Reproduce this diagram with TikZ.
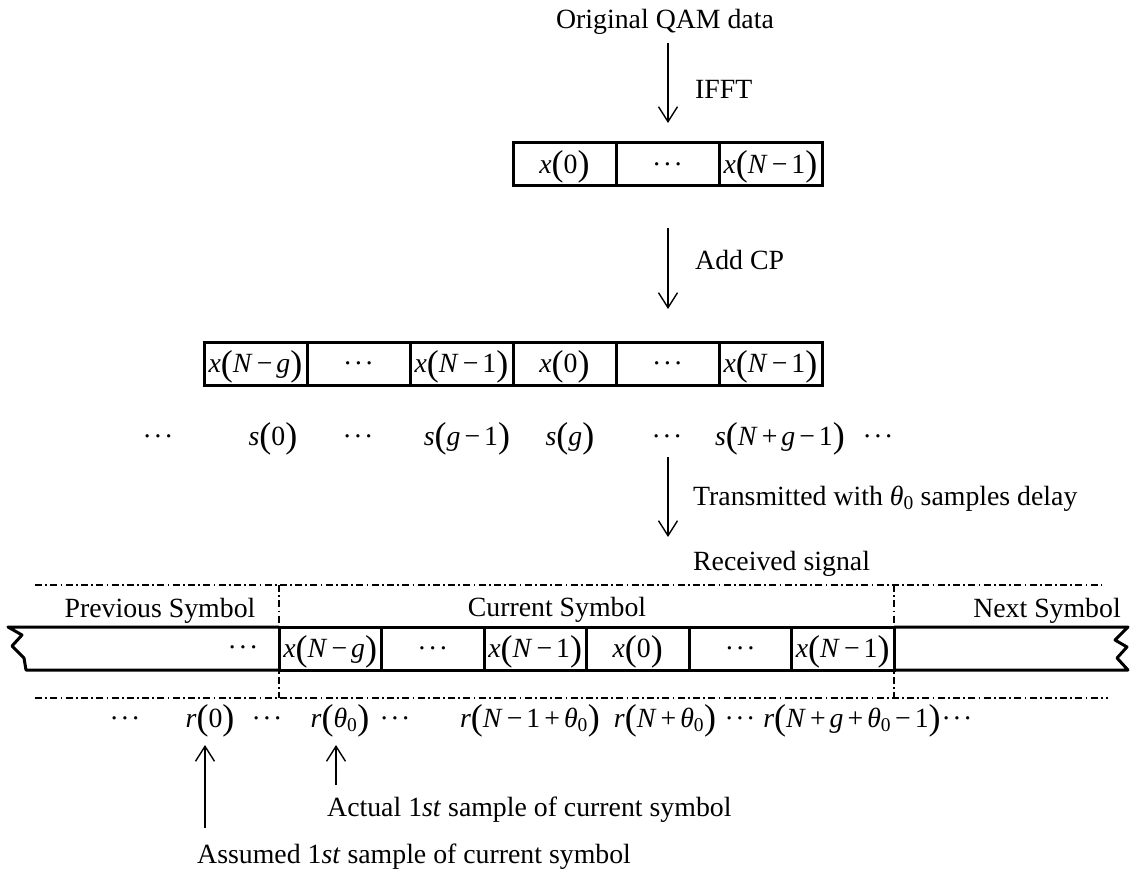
\documentclass[tikz,border=0pt]{standalone}
\usepackage{fontspec}
\setmainfont{Liberation Serif}
\usetikzlibrary{arrows.meta}
\newcommand{\lpar}{\raisebox{-2.5pt}{\fontsize{36pt}{36pt}\selectfont(}}
\newcommand{\rpar}{\raisebox{-2.5pt}{\fontsize{36pt}{36pt}\selectfont)}}
\newcommand{\sig}[2]{\textit{#1}\lpar#2\rpar}
\newcommand{\bop}[1]{\hspace{4pt}#1\hspace{4pt}}
\newcommand{\tz}{\textit{θ}\textsubscript{0}}
\newcommand{\dts}{·\hspace{1.5pt}·\hspace{1.5pt}·}
\tikzset{
 cell/.style={draw,line width=3pt,minimum width=103pt,minimum height=43pt,inner sep=0,text height=24.5pt,text depth=6.5pt},
 slot/.style={cell,minimum width=102.5pt},
 strip/.style={line width=3pt,line join=round},
 flow/.style={line width=1.4pt,-{Straight Barb[length=15pt,width=19pt]}},
 frame/.style={line width=1.2pt,dash pattern=on 7pt off 3.3pt on 1.7pt off 3.3pt},
 lbl/.style={anchor=base west,inner sep=0},
 smp/.style={anchor=base,inner sep=0}
}
\begin{document}
\begin{tikzpicture}[x=1pt,y=-1pt,font=\fontsize{27.8pt}{33pt}\selectfont]
\path[use as bounding box] (0,0) rectangle (1136,873);
% IFFT
\node[smp] (qam) at (665,28) {Original QAM data};
\coordinate (ifft-a) at (668,43);
\coordinate (ifft-b) at (668,123);
\draw[flow] (ifft-a) -- (ifft-b);
\node[lbl] (ifft) at (695,98) {IFFT};
\node[cell] (ofdm-1) at (564.5,164) {\sig{x}{0}};
\node[cell] (ofdm-2) at (667.5,164) {\dts};
\node[cell] (ofdm-3) at (770.5,164) {\sig{x}{\textit{N}\bop{−}1}};
% add CP
\coordinate (cp-a) at (668,228);
\coordinate (cp-b) at (668,309);
\draw[flow] (cp-a) -- (cp-b);
\node[lbl] (addcp) at (695,269) {Add CP};
\node[cell] (tx-1) at (255.5,363.5) {\sig{x}{\textit{N}\bop{−}\textit{g}}};
\node[cell] (tx-2) at (358.5,363.5) {\dts};
\node[cell] (tx-3) at (461.5,363.5) {\sig{x}{\textit{N}\bop{−}1}};
\node[cell] (tx-4) at (564.5,363.5) {\sig{x}{0}};
\node[cell] (tx-5) at (667.5,363.5) {\dts};
\node[cell] (tx-6) at (770.5,363.5) {\sig{x}{\textit{N}\bop{−}1}};
\node[smp] (s-0) at (158,445) {\dts};
\node[smp] (s-1) at (273,445) {\sig{s}{0}};
\node[smp] (s-2) at (358,445) {\dts};
\node[smp] (s-3) at (467,445) {\sig{s}{\textit{g}\bop{−}1}};
\node[smp] (s-4) at (570,445) {\sig{s}{\textit{g}}};
\node[smp] (s-5) at (667,445) {\dts};
\node[smp] (s-6) at (780,445) {\sig{s}{\textit{N}\bop{+}\textit{g}\bop{−}1}};
\node[smp] (s-7) at (878,445) {\dts};
% channel
\coordinate (ch-a) at (668,457);
\coordinate (ch-b) at (668,537);
\draw[flow] (ch-a) -- (ch-b);
\node[lbl] (delay) at (693,505) {Transmitted with \tz{} samples delay};
\node[lbl] (rx) at (693,570) {Received signal};
% received stream
\draw[frame] (35,585) -- (1102,585);
\draw[frame] (35,698) -- (1108,698);
\draw[frame] (279,585) -- (279,698);
\draw[frame] (894,585) -- (894,698);
\node[smp] (prev) at (160,617) {Previous Symbol};
\node[smp] (curr) at (557,616) {Current Symbol};
\node[smp] (next) at (1047,617) {Next Symbol};
\draw[strip] (279,627) -- (8,627) -- (22,635) -- (12,646) -- (24,658) -- (26,670) -- (279,670);
\draw[strip] (894,627) -- (1128,627) -- (1115,640) -- (1127,647) -- (1117,658) -- (1128,670) -- (894,670);
\node[smp] (rx-0) at (243,656) {\dts};
\node[slot] (rx-1) at (330.25,648.5) {\sig{x}{\textit{N}\bop{−}\textit{g}}};
\node[slot] (rx-2) at (432.75,648.5) {\dts};
\node[slot] (rx-3) at (535.25,648.5) {\sig{x}{\textit{N}\bop{−}1}};
\node[slot] (rx-4) at (637.75,648.5) {\sig{x}{0}};
\node[slot] (rx-5) at (740.25,648.5) {\dts};
\node[slot] (rx-6) at (842.75,648.5) {\sig{x}{\textit{N}\bop{−}1}};
\node[smp] (r-0) at (125,727) {\dts};
\node[smp] (r-1) at (210,727) {\sig{r}{0}};
\node[smp] (r-2) at (267,727) {\dts};
\node[smp] (r-3) at (340,727) {\sig{r}{\tz}};
\node[smp] (r-4) at (395,727) {\dts};
\node[smp] (r-5) at (530,727) {\sig{r}{\textit{N}\bop{−}1\bop{+}\tz}};
\node[smp] (r-6) at (665,727) {\sig{r}{\textit{N}\bop{+}\tz}};
\node[smp] (r-7) at (740,727) {\dts};
\node[smp] (r-8) at (852,727) {\sig{r}{\textit{N}\bop{+}\textit{g}\bop{+}\tz\bop{−}1}};
\node[smp] (r-9) at (957,727) {\dts};
% timing
\coordinate (actual-a) at (336,785);
\coordinate (actual-b) at (336,745);
\draw[flow] (actual-a) -- (actual-b);
\node[lbl] (actual) at (327,816) {Actual 1\textit{st} sample of current symbol};
\coordinate (assumed-a) at (205,828);
\coordinate (assumed-b) at (205,745);
\draw[flow] (assumed-a) -- (assumed-b);
\node[lbl] (assumed) at (197,863) {Assumed 1\textit{st} sample of current symbol};
\end{tikzpicture}
\end{document}
